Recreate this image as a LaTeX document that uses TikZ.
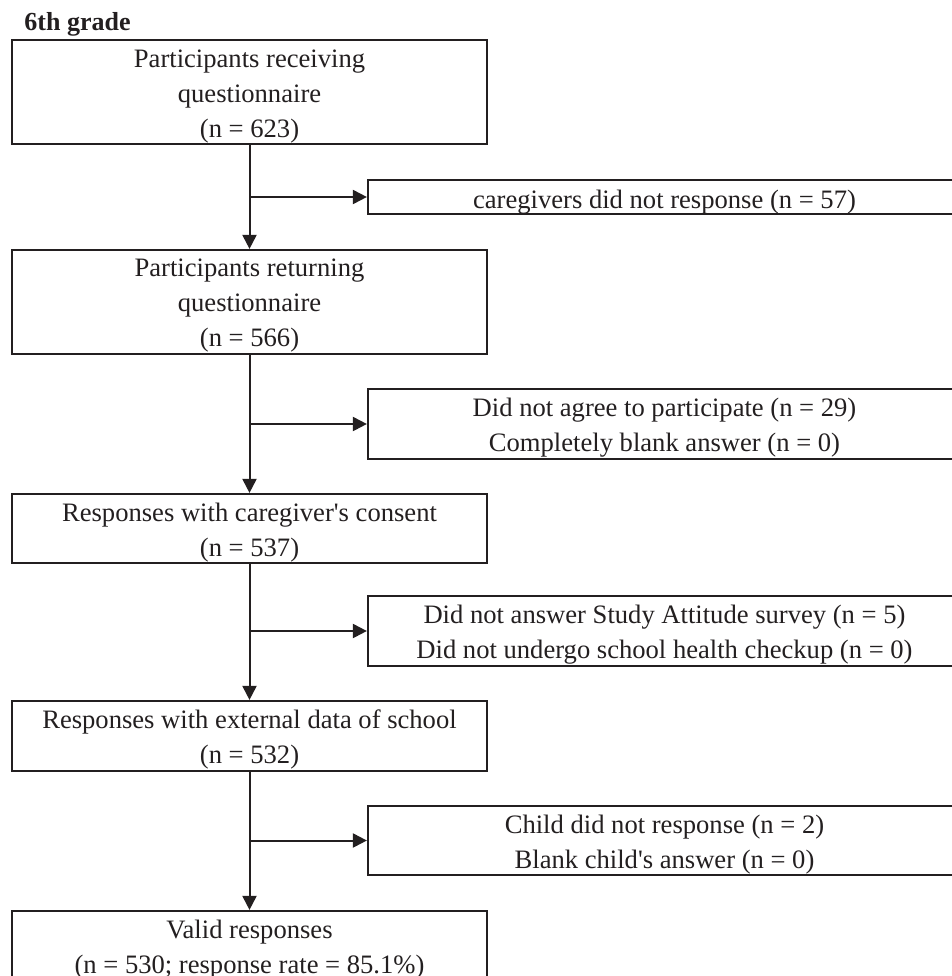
\documentclass[tikz,border=0pt]{standalone}
\usepackage{fontspec}
\setmainfont{Liberation Serif}
\usetikzlibrary{arrows.meta}
\definecolor{ink}{RGB}{35,31,32}
\begin{document}
\begin{tikzpicture}[x=0.5pt,y=-0.5pt,
  box/.style={draw=ink, line width=1.1pt, rectangle, inner sep=0pt, minimum width=#1},
  mainbox/.style={box=237.5pt},
  sidebox/.style={box=296.5pt},
  txt/.style={anchor=base, inner sep=0pt, text=ink, font=\fontsize{13.3pt}{16pt}\selectfont},
  arr/.style={draw=ink, line width=1.0pt, -{Triangle[length=7pt,width=7pt]}},
  ln/.style={draw=ink, line width=1.0pt}]
\useasboundingbox (0,0) rectangle (952,976);
\clip (0,0) rectangle (952,976);
% title
\node[anchor=base west, inner sep=0pt, text=ink, font=\fontsize{13pt}{15pt}\selectfont\bfseries] (title) at (24,30) {6th grade};
% main boxes
\node[mainbox, minimum height=52pt] (b1) at (249.5,92) {};
\node[mainbox, minimum height=52pt] (b2) at (249.5,302) {};
\node[mainbox, minimum height=34.5pt] (b3) at (249.5,528.5) {};
\node[mainbox, minimum height=35pt] (b4) at (249.5,736) {};
\node[mainbox, minimum height=35pt] (b5) at (249.5,946) {};
% side boxes
\node[sidebox, minimum height=17pt] (s1) at (664.5,197) {};
\node[sidebox, minimum height=35pt] (s2) at (664.5,424) {};
\node[sidebox, minimum height=35pt] (s3) at (664.5,631) {};
\node[sidebox, minimum height=34.5pt] (s4) at (664.5,840.5) {};
% texts main
\node[txt] (t1a) at (249.5,67) {Participants receiving};
\node[txt] (t1b) at (249.5,102) {questionnaire};
\node[txt] (t1c) at (249.5,137) {(n = 623)};
\node[txt] (t2a) at (249.5,276) {Participants returning};
\node[txt] (t2b) at (249.5,311) {questionnaire};
\node[txt] (t2c) at (249.5,346) {(n = 566)};
\node[txt] (t3a) at (249.5,521) {Responses with caregiver\textquotesingle s consent};
\node[txt] (t3b) at (249.5,556) {(n = 537)};
\node[txt] (t4a) at (249.5,728) {Responses with external data of school};
\node[txt] (t4b) at (249.5,763) {(n = 532)};
\node[txt] (t5a) at (249.5,938) {Valid responses};
\node[txt] (t5b) at (249.5,973) {(n = 530; response rate = 85.1\%)};
% texts side
\node[txt] (u1) at (664.5,208) {caregivers did not response (n = 57)};
\node[txt] (u2a) at (664.5,416) {Did not agree to participate (n = 29)};
\node[txt] (u2b) at (664.5,451) {Completely blank answer (n = 0)};
\node[txt] (u3a) at (664.5,623) {Did not answer Study Attitude survey (n = 5)};
\node[txt] (u3b) at (664.5,658) {Did not undergo school health checkup (n = 0)};
\node[txt] (u4a) at (664.5,833) {Child did not response (n = 2)};
\node[txt] (u4b) at (664.5,868) {Blank child\textquotesingle s answer (n = 0)};
% main arrows
\draw[arr] (b1.south) -- (b2.north);
\draw[arr] (b2.south) -- (b3.north);
\draw[arr] (b3.south) -- (b4.north);
\draw[arr] (b4.south) -- (b5.north);
% side arrows
\coordinate (j1) at (b1.south |- s1.west);
\coordinate (j2) at (b2.south |- s2.west);
\coordinate (j3) at (b3.south |- s3.west);
\coordinate (j4) at (b4.south |- s4.west);
\draw[arr] (j1) -- (s1.west);
\draw[arr] (j2) -- (s2.west);
\draw[arr] (j3) -- (s3.west);
\draw[arr] (j4) -- (s4.west);
\end{tikzpicture}
\end{document}
